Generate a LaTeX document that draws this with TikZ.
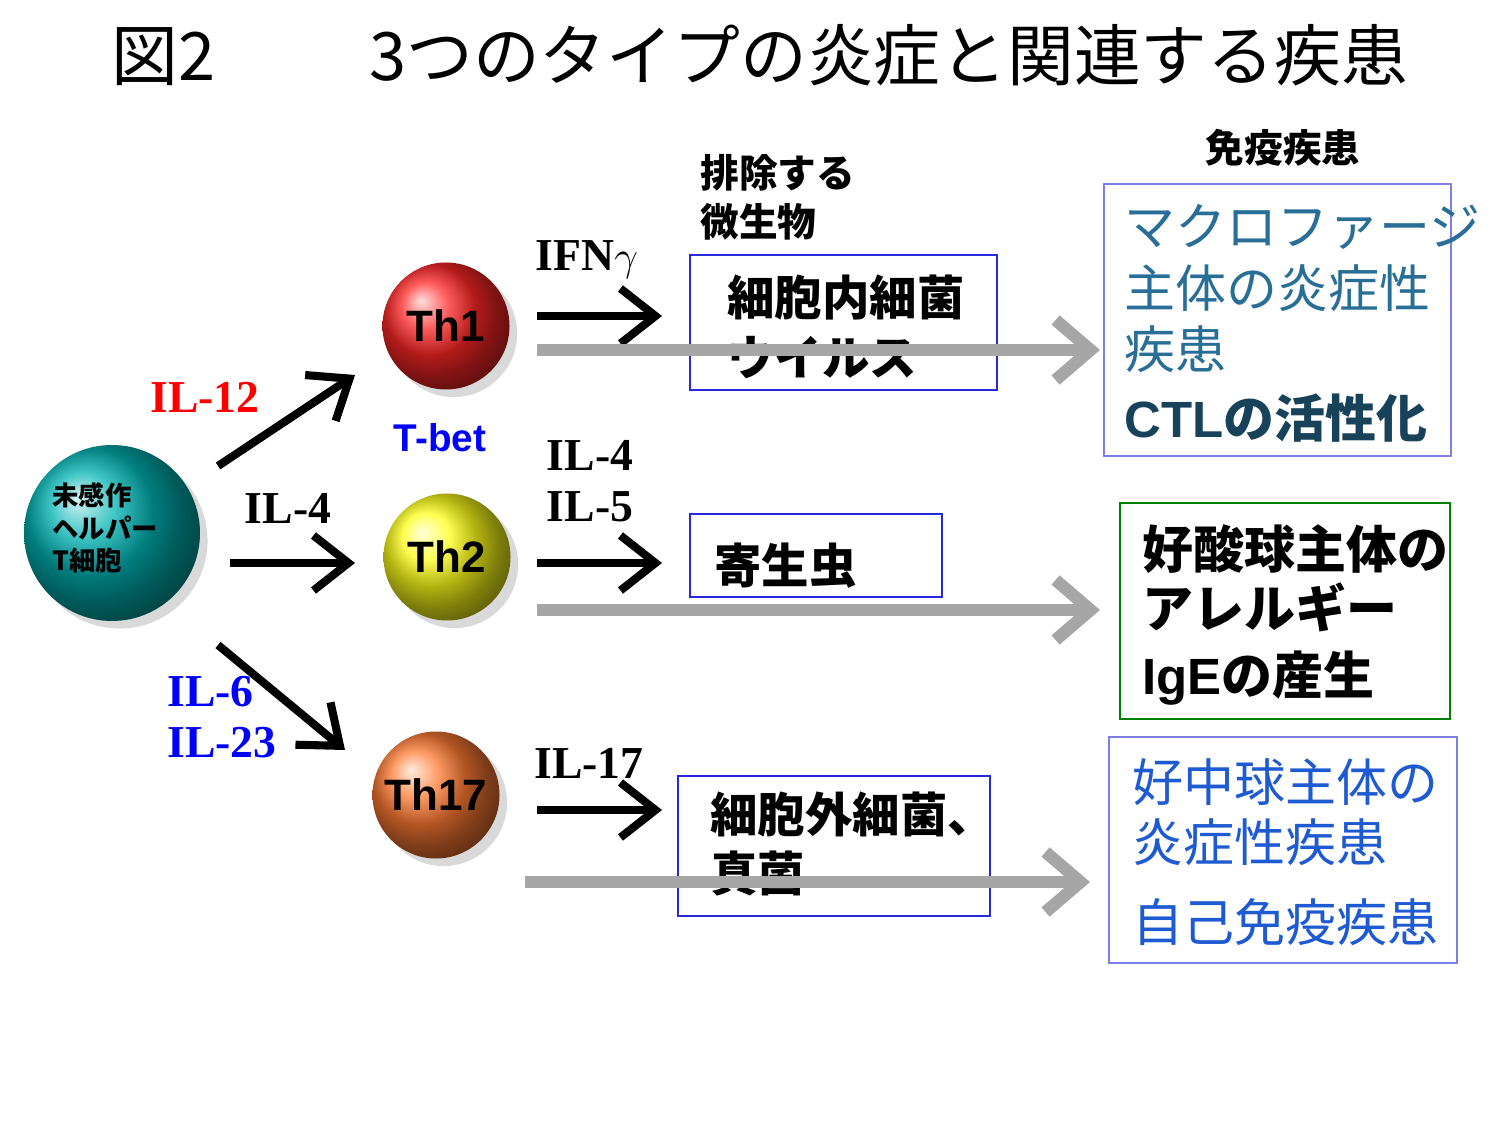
\documentclass[tikz,border=0pt]{standalone}
\usepackage{fontspec}
\newfontfamily\jp{Noto Sans CJK JP}
\newfontfamily\ser{Liberation Serif}
\newfontfamily\sans{Liberation Sans}
\usetikzlibrary{shadows,arrows.meta,positioning}
\definecolor{boxblue}{RGB}{40,40,220}
\definecolor{txtteal}{RGB}{40,110,150}
\definecolor{txtblue}{RGB}{30,90,210}
\tikzset{
  cell/.style={circle,inner sep=0pt,minimum size=1.27cm,shading=ball,drop shadow={opacity=0.3},font=\sans\bfseries\fontsize{12.5}{12.5}\selectfont},
  blk/.style={-{Straight Barb[length=3.5mm,width=5.5mm]},line width=2.3pt},
  gry/.style={-{Straight Barb[length=3.5mm,width=6mm]},line width=3.5pt,gray!70},
  il/.style={font=\ser\bfseries\fontsize{13}{14.5}\selectfont,align=left},
  box/.style={draw=boxblue,thick,rectangle,inner sep=0pt}
}
\begin{document}
\begin{tikzpicture}
\useasboundingbox (0,0) rectangle (14.99,-11.24);
% title
\node (title) at (7.6,-0.55) {\jp\fontsize{19}{19}\selectfont 図2\hspace{2.3em}3つのタイプの炎症と関連する疾患};
% cells
\node[cell,ball color=teal!60!cyan,minimum size=1.76cm] (naive) at (1.12,-5.33) {};
\node[align=left,font=\jp\bfseries\fontsize{7.5}{9.2}\selectfont] at (1.05,-5.28) {未感作\\ヘルパー\\T細胞};
\node[cell,ball color=red!85] (th1) at (4.46,-3.26) {Th1};
\node[cell,ball color=yellow!90] (th2) at (4.47,-5.57) {Th2};
\node[cell,ball color=orange!70!red!80] (th17) at (4.36,-7.95) {Th17};
% arrows from naive
\coordinate (a1) at (2.18,-4.66); \coordinate (b1) at (3.55,-3.75);
\coordinate (a2) at (2.30,-5.63); \coordinate (b2) at (3.55,-5.63);
\coordinate (a3) at (2.18,-6.45); \coordinate (b3) at (3.45,-7.50);
\draw[blk] (a1) -- (b1);
\draw[blk] (a2) -- (b2);
\draw[blk] (a3) -- (b3);
\node[il,red] at (2.05,-3.97) {IL-12};
\node[il] at (2.88,-5.08) {IL-4};
\node[il,blue,align=left] at (2.22,-7.17) {IL-6\\IL-23};
\node[font=\sans\bfseries\fontsize{11}{11}\selectfont,blue] at (4.40,-4.38) {T-bet};
% headers
\node[align=left,anchor=west,font=\jp\bfseries\fontsize{11}{14}\selectfont] at (6.88,-1.97) {排除する\\微生物};
\node[font=\jp\bfseries\fontsize{11}{11}\selectfont] at (12.83,-1.48) {免疫疾患};
% microbe boxes
\draw[box] (6.90,-2.55) rectangle (9.97,-3.90);
\node[align=left,anchor=west,font=\jp\bfseries\fontsize{13.5}{17}\selectfont] (m1) at (7.15,-3.27) {細胞内細菌\\ウイルス};
\draw[box] (6.90,-5.14) rectangle (9.42,-5.97);
\node[anchor=west,font=\jp\bfseries\fontsize{13.5}{17}\selectfont] (m2) at (7.02,-5.66) {寄生虫};
\draw[box] (6.78,-7.76) rectangle (9.90,-9.16);
\node[align=left,anchor=west,font=\jp\bfseries\fontsize{13.5}{17}\selectfont] (m3) at (6.98,-8.44) {細胞外細菌、\\真菌};
% cytokine arrows
\coordinate (c1) at (5.37,-3.16); \coordinate (d1) at (6.62,-3.16);
\coordinate (c2) at (5.37,-5.63); \coordinate (d2) at (6.62,-5.63);
\coordinate (c3) at (5.37,-8.10); \coordinate (d3) at (6.62,-8.10);
\draw[blk] (c1) -- (d1);
\draw[blk] (c2) -- (d2);
\draw[blk] (c3) -- (d3);
\node[il] at (5.87,-2.60) {IFN$\gamma$};
\node[il] at (5.90,-4.81) {IL-4\\IL-5};
\node[il] at (5.89,-7.63) {IL-17};
% gray arrows
\coordinate (g1) at (5.37,-3.50); \coordinate (h1) at (11.0,-3.50);
\coordinate (g2) at (5.37,-6.10); \coordinate (h2) at (11.0,-6.10);
\coordinate (g3) at (5.25,-8.82); \coordinate (h3) at (10.9,-8.82);
\draw[gry] (g1) -- (h1);
\draw[gry] (g2) -- (h2);
\draw[gry] (g3) -- (h3);
% disease boxes
\draw[draw=boxblue!60,thick] (11.04,-1.84) rectangle (14.51,-4.56);
\node[align=left,anchor=north west,txtteal,font=\jp\fontsize{14.5}{17.5}\selectfont] at (11.12,-1.92) {マクロファージ\\主体の炎症性\\疾患};
\node[anchor=west,txtteal!60!black,font=\jp\bfseries\fontsize{14.5}{17}\selectfont] at (11.12,-4.18) {{\sans\bfseries CTL}の活性化};
\draw[draw=green!50!black,thick] (11.20,-5.03) rectangle (14.50,-7.19);
\node[align=left,anchor=north west,font=\jp\bfseries\fontsize{14.5}{17}\selectfont] at (11.30,-5.12) {好酸球主体の\\アレルギー};
\node[anchor=west,font=\jp\bfseries\fontsize{14.5}{17}\selectfont] at (11.30,-6.78) {{\sans\bfseries IgE}の産生};
\draw[draw=boxblue!60,thick] (11.09,-7.37) rectangle (14.57,-9.63);
\node[align=left,anchor=north west,txtblue,font=\jp\fontsize{14.5}{17}\selectfont] at (11.20,-7.46) {好中球主体の\\炎症性疾患};
\node[anchor=west,txtblue,font=\jp\fontsize{14.5}{17}\selectfont] at (11.20,-9.22) {自己免疫疾患};
\end{tikzpicture}
\end{document}
